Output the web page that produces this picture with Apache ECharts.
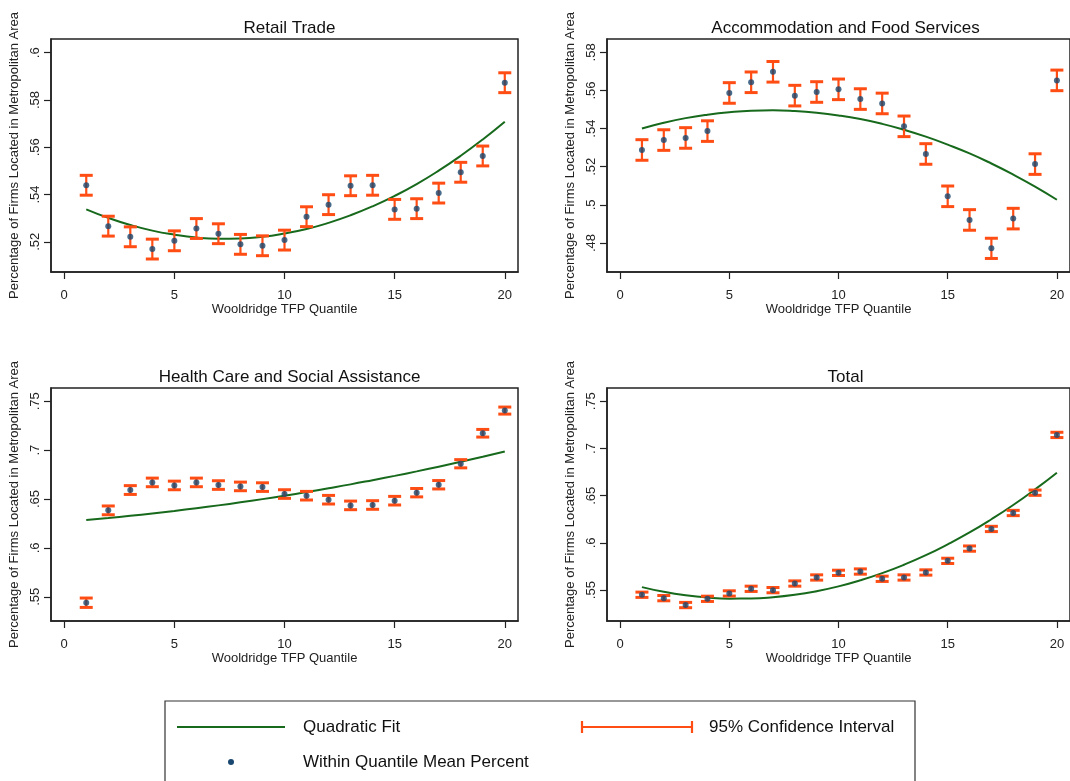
<!DOCTYPE html>
<html>
<head>
<meta charset="utf-8">
<script src="https://cdn.jsdelivr.net/npm/echarts@6/dist/echarts.min.js"></script>
<style>
html,body{margin:0;padding:0;background:#fff;}
#chart{width:1070px;height:781px;}
</style>
</head>
<body>
<div id="chart"></div>
<script>
// ---------- data ----------
const quantiles = [1,2,3,4,5,6,7,8,9,10,11,12,13,14,15,16,17,18,19,20];
const xTicks = [0,5,10,15,20];

const panelTitles = ['Retail Trade','Accommodation and Food Services','Health Care and Social Assistance','Total'];
const xAxisTitle = 'Wooldridge TFP Quantile';
const yAxisTitle = 'Percentage of Firms Located in Metropolitan Area';

const retailMean = [.5439,.5266,.5221,.5169,.5204,.5256,.5234,.5189,.5183,.5207,.5306,.5357,.5437,.5439,.5337,.5340,.5406,.5494,.5563,.5873];
const retailCI   = [.0042,.0042,.0042,.0042,.0042,.0042,.0042,.0042,.0042,.0042,.0042,.0042,.0042,.0042,.0042,.0042,.0042,.0042,.0042,.0042];
const retailFit  = [.5337,.5301,.5271,.5247,.5230,.5218,.5213,.5214,.5221,.5235,.5254,.5280,.5312,.5350,.5394,.5444,.5501,.5564,.5633,.5708];
const retailTicks = [.52,.54,.56,.58,.6];

const accomMean = [.5288,.5340,.5351,.5387,.5587,.5643,.5698,.5573,.5592,.5606,.5555,.5532,.5412,.5267,.5045,.4921,.4772,.4928,.5214,.5653];
const accomCI   = [.0054,.0054,.0054,.0054,.0054,.0054,.0054,.0054,.0054,.0054,.0054,.0054,.0054,.0054,.0054,.0054,.0053,.0054,.0054,.0054];
const accomFit  = [.5401,.5431,.5455,.5473,.5486,.5494,.5496,.5492,.5483,.5469,.5450,.5425,.5394,.5358,.5316,.5270,.5217,.5159,.5096,.5027];
const accomTicks = [.48,.5,.52,.54,.56,.58];

const healthMean = [.5439,.6384,.6592,.6670,.6639,.6670,.6643,.6629,.6622,.6551,.6534,.6493,.6435,.6439,.6483,.6565,.6646,.6861,.7173,.7405];
const healthCI   = [.0048,.0045,.0045,.0044,.0044,.0044,.0044,.0044,.0044,.0044,.0044,.0044,.0044,.0044,.0044,.0043,.0043,.0042,.0039,.0036];
const healthFit  = [.6286,.6306,.6328,.6352,.6378,.6406,.6435,.6466,.6499,.6534,.6571,.6610,.6650,.6693,.6737,.6783,.6831,.6881,.6933,.6986];
const healthTicks = [.55,.6,.65,.7,.75];

const totalMean = [.5451,.5415,.5342,.5408,.5465,.5514,.5500,.5570,.5634,.5683,.5697,.5620,.5634,.5687,.5810,.5940,.6148,.6317,.6532,.7144];
const totalCI   = [.0028,.0028,.0028,.0028,.0028,.0028,.0028,.0028,.0028,.0028,.0028,.0028,.0028,.0028,.0028,.0028,.0028,.0028,.0028,.0028];
const totalFit  = [.5532,.5482,.5445,.5421,.5410,.5411,.5424,.5450,.5489,.5540,.5604,.5680,.5769,.5870,.5985,.6111,.6251,.6402,.6567,.6744];
const totalTicks = [.55,.6,.65,.7,.75];

const legendLabels = ['Quadratic Fit','95% Confidence Interval','Within Quantile Mean Percent'];

// ---------- styling / layout ----------
const FONT = 'Liberation Sans, Arial, Helvetica, sans-serif';
const C_FIT = '#17691c';
const C_CI = '#ff4d14';
const C_PT = '#1a476f';
const C_AX = '#222';

const panels = [
  {mean: retailMean, ci: retailCI, fit: retailFit, ticks: retailTicks, ymin: .5072, ymax: .6058, left: 51, top: 39},
  {mean: accomMean, ci: accomCI, fit: accomFit, ticks: accomTicks, ymin: .4648, ymax: .587, left: 607, top: 39},
  {mean: healthMean, ci: healthCI, fit: healthFit, ticks: healthTicks, ymin: .5252, ymax: .7636, left: 51, top: 388},
  {mean: totalMean, ci: totalCI, fit: totalFit, ticks: totalTicks, ymin: .5173, ymax: .7641, left: 607, top: 388}
];
const GW = 467, GH = 233;

function fmtY(v){
  let s = String(+(+v).toFixed(4));
  return s.replace(/^0\./, '.');
}

const grid = [], xAxis = [], yAxis = [], series = [], title = [];
panels.forEach((p, i) => {
  grid.push({left: p.left, top: p.top, width: GW, height: GH, show: true,
    borderColor: C_AX, borderWidth: 1.5, backgroundColor: 'transparent', containLabel: false});
  title.push({text: panelTitles[i], left: p.left + GW/2, top: p.top - 24, textAlign: 'center',
    textStyle: {fontFamily: FONT, fontSize: 17, fontWeight: 'normal', color: '#111'}});
  xAxis.push({type: 'value', gridIndex: i, min: -0.6, max: 20.6,
    name: xAxisTitle, nameLocation: 'middle', nameGap: 30,
    nameTextStyle: {fontFamily: FONT, fontSize: 13, color: '#222'},
    axisLine: {show: true, onZero: false, lineStyle: {color: C_AX, width: 1.5}},
    axisTick: {show: true, length: 7, lineStyle: {color: C_AX, width: 1.2}, customValues: xTicks},
    axisLabel: {show: true, margin: 17, fontFamily: FONT, fontSize: 13, color: '#222', customValues: xTicks},
    splitLine: {show: false}});
  yAxis.push({type: 'value', gridIndex: i, min: p.ymin, max: p.ymax,
    name: yAxisTitle, nameLocation: 'middle', nameGap: 30, nameRotate: 90,
    nameTextStyle: {fontFamily: FONT, fontSize: 13, color: '#222'},
    axisLine: {show: true, onZero: false, lineStyle: {color: C_AX, width: 1.5}},
    axisTick: {show: true, length: 7, lineStyle: {color: C_AX, width: 1.2}, customValues: p.ticks},
    axisLabel: {show: true, rotate: 90, margin: 9, fontFamily: FONT, fontSize: 13, color: '#222',
      customValues: p.ticks, formatter: fmtY},
    splitLine: {show: false}});

  series.push({type: 'line', xAxisIndex: i, yAxisIndex: i, z: 2, smooth: true, symbol: 'none',
    lineStyle: {color: C_FIT, width: 2}, silent: true, animation: false,
    data: quantiles.map((q, k) => [q, p.fit[k]])});
  series.push({type: 'custom', xAxisIndex: i, yAxisIndex: i, z: 3, silent: true, animation: false,
    encode: {x: 0, y: [1, 2]},
    data: quantiles.map((q, k) => [q, p.mean[k] - p.ci[k], p.mean[k] + p.ci[k]]),
    renderItem: function(params, api){
      const x = api.value(0);
      const lo = api.coord([x, api.value(1)]);
      const hi = api.coord([x, api.value(2)]);
      const hw = 6.5;
      return {type: 'group', children: [
        {type: 'line', shape: {x1: lo[0], y1: lo[1], x2: hi[0], y2: hi[1]}, style: {stroke: C_CI, lineWidth: 2.2}},
        {type: 'line', shape: {x1: hi[0]-hw, y1: hi[1], x2: hi[0]+hw, y2: hi[1]}, style: {stroke: C_CI, lineWidth: 3}},
        {type: 'line', shape: {x1: lo[0]-hw, y1: lo[1], x2: lo[0]+hw, y2: lo[1]}, style: {stroke: C_CI, lineWidth: 3}}
      ]};
    }});
  series.push({type: 'scatter', xAxisIndex: i, yAxisIndex: i, z: 4, symbol: 'circle', symbolSize: 6,
    itemStyle: {color: C_PT}, silent: true, animation: false,
    data: quantiles.map((q, k) => [q, p.mean[k]])});
});

// legend drawn as graphic box
const LT = {fontFamily: FONT, fontSize: 17, fill: '#111'};
const graphic = [
  {type: 'rect', shape: {x: 165, y: 701, width: 750, height: 110}, style: {fill: '#fff', stroke: '#333', lineWidth: 1.2}, z: 0},
  {type: 'line', shape: {x1: 177, y1: 727, x2: 285, y2: 727}, style: {stroke: C_FIT, lineWidth: 2.2}},
  {type: 'text', x: 303, y: 727, style: Object.assign({text: legendLabels[0], verticalAlign: 'middle'}, LT)},
  {type: 'line', shape: {x1: 582, y1: 727, x2: 692, y2: 727}, style: {stroke: C_CI, lineWidth: 2.2}},
  {type: 'line', shape: {x1: 582, y1: 721, x2: 582, y2: 733}, style: {stroke: C_CI, lineWidth: 2.2}},
  {type: 'line', shape: {x1: 692, y1: 721, x2: 692, y2: 733}, style: {stroke: C_CI, lineWidth: 2.2}},
  {type: 'text', x: 709, y: 727, style: Object.assign({text: legendLabels[1], verticalAlign: 'middle'}, LT)},
  {type: 'circle', shape: {cx: 231, cy: 762, r: 3}, style: {fill: C_PT}},
  {type: 'text', x: 303, y: 762, style: Object.assign({text: legendLabels[2], verticalAlign: 'middle'}, LT)}
];

const chart = echarts.init(document.getElementById('chart'), null, {renderer: 'canvas'});
chart.setOption({
  backgroundColor: '#fff',
  animation: false,
  title: title,
  grid: grid,
  xAxis: xAxis,
  yAxis: yAxis,
  series: series,
  graphic: graphic
});
</script>
</body>
</html>
